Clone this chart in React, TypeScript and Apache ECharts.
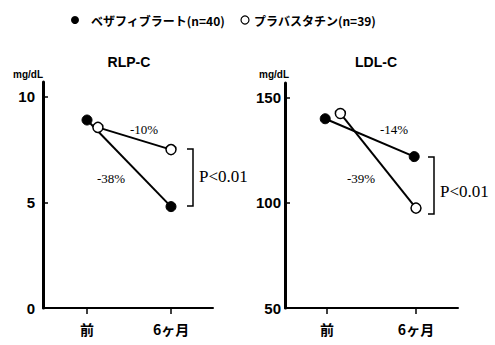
import React, { useEffect, useRef } from "react";
import * as echarts from "echarts";

const timepoints = ["前", "6ヶ月"];
const timeX = [0, 1];
const bezaName = "ベザフィブラート(n=40)";
const pravaName = "プラバスタチン(n=39)";
const titles = ["RLP-C", "LDL-C"];
const unit = "mg/dL";

const rlpBezaX = [0, 1];
const rlpBeza = [8.9, 4.8];
const rlpPravaX = [0.13, 1];
const rlpPrava = [8.55, 7.5];

const ldlBezaX = [-0.02, 0.98];
const ldlBeza = [140, 122];
const ldlPravaX = [0.15, 1];
const ldlPrava = [142.5, 97.5];

const rlpTicks = [0, 5, 10];
const ldlTicks = [50, 100, 150];

const rlpChanges = ["-10%", "-38%"];
const ldlChanges = ["-14%", "-39%"];
const pLabel = "P<0.01";

const zip = (xs: number[], ys: number[]) => xs.map((x, i) => [x, ys[i]]);

const SANS = "'Liberation Sans', Arial, sans-serif";
const SERIF = "'Liberation Serif', 'DejaVu Serif', serif";
const CJK = "'Noto Sans CJK JP', 'Noto Sans', sans-serif";

export default function App() {
  const ref = useRef<HTMLDivElement>(null);
  useEffect(() => {
    if (!ref.current) return;
    const chart = echarts.init(ref.current, null, { renderer: "svg" });

    const xAxisBase = (min: number, max: number) => ({
      type: "value",
      min,
      max,
      splitLine: { show: false },
      axisLine: { show: true, onZero: false, lineStyle: { color: "#000", width: 2 } },
      axisTick: { show: true, customValues: timeX, length: 6, lineStyle: { color: "#000", width: 1.5 } },
      axisLabel: {
        customValues: timeX,
        formatter: (v: number) => timepoints[Math.round(v)] ?? "",
        color: "#000",
        fontFamily: CJK,
        fontWeight: "bold",
        fontSize: 14,
        margin: 14,
      },
    });
    const yAxisBase = (min: number, max: number, ticks: number[], margin: number) => ({
      type: "value",
      min,
      max,
      splitLine: { show: false },
      axisLine: { show: true, onZero: false, lineStyle: { color: "#000", width: 3 } },
      axisTick: { show: true, inside: true, customValues: ticks, length: 5, lineStyle: { color: "#000", width: 1.5 } },
      axisLabel: {
        customValues: ticks,
        color: "#000",
        fontFamily: SANS,
        fontWeight: "bold",
        fontSize: 15,
        margin,
      },
    });

    const lineSeries = (name: string, xi: number, data: number[][], filled: boolean) => ({
      type: "line",
      name,
      xAxisIndex: xi,
      yAxisIndex: xi,
      data,
      symbol: "circle",
      symbolSize: 10,
      lineStyle: { color: "#000", width: 2 },
      itemStyle: filled
        ? { color: "#000", borderColor: "#000", borderWidth: 1 }
        : { color: "#fff", borderColor: "#000", borderWidth: 1.5 },
      z: filled ? 3 : 4,
    });

    const txt = (text: string, x: number, y: number, font: string, size: number, weight: string, align = "left") => ({
      type: "text",
      x,
      y,
      style: {
        text,
        fill: "#000",
        font: `${weight} ${size}px ${font}`,
        textAlign: align,
        textVerticalAlign: "middle",
      },
    });
    const bracket = (x: number, y1: number, y2: number) => ({
      type: "polyline",
      shape: { points: [[x - 6, y1], [x, y1], [x, y2], [x - 6, y2]] },
      style: { stroke: "#000", lineWidth: 1.5, fill: null },
    });

    chart.setOption({
      animation: false,
      backgroundColor: "#fff",
      grid: [
        { left: 43, top: 82, width: 170, height: 226 },
        { left: 285, top: 83, width: 173, height: 225 },
      ],
      xAxis: [xAxisBase(-0.524, 1.5), { ...xAxisBase(-0.472, 1.472), gridIndex: 1 }],
      yAxis: [yAxisBase(0, 10.7, rlpTicks, 8), { ...yAxisBase(50, 157, ldlTicks, 4), gridIndex: 1 }],
      series: [
        lineSeries(bezaName, 0, zip(rlpBezaX, rlpBeza), true),
        lineSeries(pravaName, 0, zip(rlpPravaX, rlpPrava), false),
        lineSeries(bezaName, 1, zip(ldlBezaX, ldlBeza), true),
        lineSeries(pravaName, 1, zip(ldlPravaX, ldlPrava), false),
      ],
      graphic: [
        // legend
        { type: "circle", shape: { cx: 75, cy: 20, r: 4 }, style: { fill: "#000" } },
        txt(bezaName, 91, 20, CJK, 12, "bold"),
        { type: "circle", shape: { cx: 245, cy: 20, r: 4 }, style: { fill: "#fff", stroke: "#000", lineWidth: 1.2 } },
        txt(pravaName, 254, 20, CJK, 12, "bold"),
        // titles
        txt(titles[0], 129, 62, SANS, 14, "bold", "center"),
        txt(titles[1], 376, 62, SANS, 14, "bold", "center"),
        txt(unit, 13, 74, SANS, 10, "bold"),
        txt(unit, 259, 74, SANS, 10, "bold"),
        // changes
        txt(rlpChanges[0], 130, 129, SERIF, 13, "normal"),
        txt(rlpChanges[1], 97, 178, SERIF, 13, "normal"),
        txt(ldlChanges[0], 380, 129, SERIF, 13, "normal"),
        txt(ldlChanges[1], 347, 178, SERIF, 13, "normal"),
        // significance
        bracket(193, 149, 206),
        txt(pLabel, 199, 176, SERIF, 17, "normal"),
        bracket(434, 157, 214),
        txt(pLabel, 440, 191, SERIF, 17, "normal"),
      ],
    });
    return () => chart.dispose();
  }, []);
  return <div ref={ref} style={{ width: 495, height: 345, position: "absolute", left: 0, top: 0 }} />;
}
